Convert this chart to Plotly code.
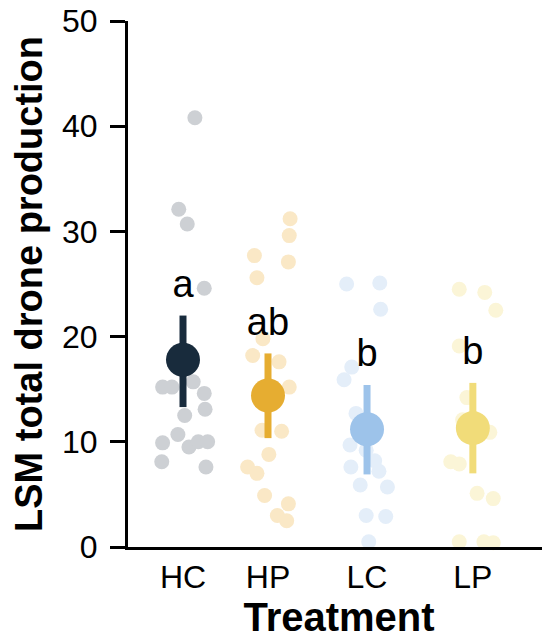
import plotly.graph_objects as go

# ---------------- data ----------------
groups = ["HC", "HP", "LC", "LP"]
means = [17.8, 14.4, 11.2, 11.3]
upper = [22.0, 18.4, 15.4, 15.6]
lower = [13.3, 10.35, 6.9, 7.0]
letters = ["a", "ab", "b", "b"]

hc_vals = [40.8, 32.1, 30.7, 24.6, 15.2, 15.2, 15.7, 14.6, 13.1, 12.5, 10.7, 9.9, 9.5, 10.0, 10.0, 8.1, 7.6]
hc_jit = [0.14, -0.05, 0.05, 0.25, -0.24, -0.13, 0.12, 0.25, 0.26, 0.02, -0.06, -0.24, 0.07, 0.18, 0.29, -0.25, 0.27]
hp_vals = [31.2, 29.6, 27.7, 27.1, 25.6, 19.8, 18.2, 17.6, 15.2, 11.1, 11.0, 8.8, 7.6, 7.0, 4.9, 4.1, 3.0, 2.5]
hp_jit = [0.26, 0.25, -0.16, 0.24, -0.13, -0.06, -0.18, 0.13, 0.25, -0.07, 0.16, 0.01, -0.24, -0.13, -0.04, 0.24, 0.11, 0.22]
lc_vals = [25.0, 25.1, 22.6, 17.1, 15.9, 12.7, 9.7, 9.2, 8.2, 7.6, 7.2, 5.9, 5.7, 3.0, 2.9, 0.5]
lc_jit = [-0.24, 0.15, 0.16, -0.18, -0.27, -0.13, -0.2, -0.01, 0.09, -0.19, 0.14, -0.08, 0.24, -0.01, 0.22, 0.02]
lp_vals = [24.5, 24.2, 22.5, 19.1, 14.2, 12.1, 10.9, 8.1, 7.9, 5.1, 4.6, 0.5, 0.5, 0.4]
lp_jit = [-0.16, 0.14, 0.27, -0.16, -0.07, -0.12, 0.2, -0.26, -0.16, 0.05, 0.24, -0.16, 0.13, 0.24]

y_ticks = [0, 10, 20, 30, 40, 50]

# ---------------- style / layout ----------------
group_x = [1.0, 2.0, 3.165, 4.41]
mean_colors = ["#182b3c", "#e6ad31", "#9dc3ea", "#f1dc79"]
point_colors = ["#cdd0d4", "#fae8c6", "#e4eef9", "#fbf5d7"]
FONT = "Liberation Sans, Arial, Helvetica, sans-serif"
letter_offset = 2.7

raw_vals = [hc_vals, hp_vals, lc_vals, lp_vals]
raw_jit = [hc_jit, hp_jit, lc_jit, lp_jit]

fig = go.Figure()

for gx, vals, jit, col in zip(group_x, raw_vals, raw_jit, point_colors):
    fig.add_trace(go.Scatter(
        x=[gx + j for j in jit], y=vals, mode="markers",
        marker=dict(size=15, color=col, line=dict(width=0)),
        cliponaxis=False, showlegend=False, hoverinfo="y"))

for gx, m, up, lo, col in zip(group_x, means, upper, lower, mean_colors):
    fig.add_trace(go.Scatter(
        x=[gx], y=[m], mode="markers",
        marker=dict(size=34, color=col, line=dict(width=0)),
        error_y=dict(type="data", symmetric=False, array=[up - m], arrayminus=[m - lo],
                     color=col, thickness=7, width=0),
        showlegend=False))

fig.add_trace(go.Scatter(
    x=group_x, y=[u + letter_offset for u in upper], mode="text",
    text=letters, textposition="middle center",
    textfont=dict(size=38, color="black", family=FONT),
    showlegend=False, hoverinfo="skip"))

# the page body has an 8px margin, so the figure is sized to fill the rest of the window
fig.update_layout(
    width=542, height=636,
    margin=dict(l=120, r=0, t=13, b=97),
    paper_bgcolor="white", plot_bgcolor="white",
    font=dict(family=FONT, color="black"),
)

fig.update_xaxes(
    range=[0.3529, 5.3176], tickvals=group_x, ticktext=groups,
    showgrid=False, zeroline=False, showline=True, linecolor="black", linewidth=3,
    ticks="", tickfont=dict(size=32, family=FONT, color="black"),
    ticklabeloverflow="allow",
    title=dict(text="<b>Treatment</b>", font=dict(size=40, family=FONT, color="black"), standoff=8),
    automargin=False,
)
fig.update_yaxes(
    range=[0, 50], tickvals=y_ticks,
    showgrid=False, zeroline=False, showline=True, linecolor="black", linewidth=3,
    ticks="outside", ticklen=15, tickwidth=2.5, tickcolor="black",
    tickfont=dict(size=32, family=FONT, color="black"), ticklabelstandoff=6,
    ticklabeloverflow="allow",
    title=dict(text="<b>LSM total drone production</b>", font=dict(size=38, family=FONT, color="black"), standoff=14),
    automargin=False,
)

fig.write_html("out.html")
